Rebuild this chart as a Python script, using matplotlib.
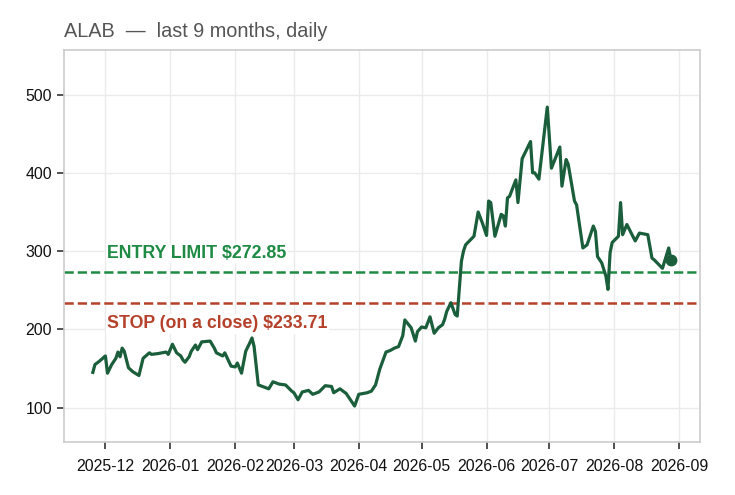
import matplotlib
matplotlib.use("Agg")
import matplotlib.pyplot as plt
import matplotlib.dates as mdates
import matplotlib.transforms as mtransforms
import pandas as pd

plt.rcParams['font.family'] = ['Liberation Sans', 'DejaVu Sans']

ticker = "ALAB"
title = "ALAB  —  last 9 months, daily"
entry_limit = 272.85
stop_level = 233.71

dates = [
    "2025-11-25", "2025-11-26", "2025-11-28", "2025-12-01", "2025-12-02", "2025-12-04",
    "2025-12-06", "2025-12-07", "2025-12-08", "2025-12-09", "2025-12-10", "2025-12-12",
    "2025-12-14", "2025-12-17", "2025-12-19", "2025-12-22", "2025-12-23", "2025-12-26",
    "2025-12-30", "2025-12-31", "2026-01-02", "2026-01-04", "2026-01-06", "2026-01-07",
    "2026-01-08", "2026-01-10", "2026-01-11", "2026-01-13", "2026-01-14", "2026-01-16",
    "2026-01-20", "2026-01-22", "2026-01-23", "2026-01-26", "2026-01-27", "2026-01-30",
    "2026-02-01", "2026-02-02", "2026-02-04", "2026-02-06", "2026-02-08", "2026-02-09",
    "2026-02-10", "2026-02-12", "2026-02-14", "2026-02-17", "2026-02-19", "2026-02-22",
    "2026-02-25", "2026-02-28", "2026-03-01", "2026-03-03", "2026-03-05", "2026-03-08",
    "2026-03-10", "2026-03-13", "2026-03-16", "2026-03-19", "2026-03-20", "2026-03-23",
    "2026-03-26", "2026-03-28", "2026-03-30", "2026-04-01", "2026-04-05", "2026-04-07",
    "2026-04-09", "2026-04-11", "2026-04-14", "2026-04-16", "2026-04-18", "2026-04-20",
    "2026-04-22", "2026-04-23", "2026-04-26", "2026-04-28", "2026-04-29", "2026-05-01",
    "2026-05-03", "2026-05-05", "2026-05-07", "2026-05-09", "2026-05-11", "2026-05-12",
    "2026-05-13", "2026-05-15", "2026-05-17", "2026-05-18", "2026-05-20", "2026-05-21",
    "2026-05-22", "2026-05-26", "2026-05-28", "2026-05-30", "2026-06-01", "2026-06-02",
    "2026-06-03", "2026-06-05", "2026-06-08", "2026-06-09", "2026-06-10", "2026-06-11",
    "2026-06-12", "2026-06-15", "2026-06-16", "2026-06-18", "2026-06-22", "2026-06-23",
    "2026-06-24", "2026-06-26", "2026-06-30", "2026-07-02", "2026-07-06", "2026-07-07",
    "2026-07-09", "2026-07-10", "2026-07-13", "2026-07-14", "2026-07-17", "2026-07-19",
    "2026-07-22", "2026-07-23", "2026-07-24", "2026-07-26", "2026-07-28", "2026-07-29",
    "2026-07-30", "2026-07-31", "2026-08-03", "2026-08-04", "2026-08-05", "2026-08-07",
    "2026-08-11", "2026-08-13", "2026-08-17", "2026-08-19", "2026-08-20", "2026-08-24",
    "2026-08-27", "2026-08-28",
]

closes = [
    145, 155, 159, 166, 144, 155,
    163, 171, 165, 176, 172, 151,
    146, 141, 163, 170, 168, 169,
    171, 168, 181, 170, 166, 161,
    158, 165, 172, 180, 174, 184,
    185, 176, 170, 166, 170, 153,
    152, 157, 144, 172, 183, 189,
    178, 129, 127, 124, 133, 130,
    129, 121, 119, 110, 120, 122,
    117, 120, 128, 127, 119, 124,
    118, 110, 102, 117, 119, 121,
    129, 149, 171, 173, 176, 178,
    192, 212, 202, 185, 197, 203,
    202, 216, 195, 202, 206, 213,
    223, 234, 219, 217, 287, 300,
    308, 319, 350, 336, 320, 364,
    362, 319, 347, 345, 332, 368,
    370, 391, 362, 418, 440, 400,
    400, 392, 484, 406, 433, 383,
    417, 411, 364, 359, 304, 308,
    332, 325, 293, 285, 268, 251,
    298, 311, 319, 362, 321, 334,
    313, 323, 321, 291, 289, 278,
    304, 289,
]

x = pd.to_datetime(dates)

fig = plt.figure(figsize=(7.35, 4.95), dpi=100)
ax = fig.add_axes([0.087, 0.107, 0.865, 0.792])

ax.grid(True, color="#ebebeb", linewidth=1.0, zorder=0)
ax.set_axisbelow(True)

ax.plot(x, closes, color="#1b5e3b", linewidth=2.3, zorder=3)
ax.plot(x[-1:], closes[-1:], marker="o", markersize=7.5, color="#1b5e3b", zorder=4, linestyle="none")

ax.axhline(entry_limit, color="#1e8a44", linestyle="--", linewidth=1.8, zorder=2)
ax.axhline(stop_level, color="#b5412b", linestyle="--", linewidth=1.8, zorder=2)

trans = mtransforms.blended_transform_factory(ax.transAxes, ax.transData)
ax.text(0.068, 297, f"ENTRY LIMIT ${entry_limit:.2f}", transform=trans, color="#1e8a44",
        fontsize=12.8, fontweight="bold", va="center", ha="left",
        bbox=dict(facecolor="white", edgecolor="none", pad=1.0), zorder=3)
ax.text(0.068, 207, f"STOP (on a close) ${stop_level:.2f}", transform=trans, color="#b5412b",
        fontsize=12.8, fontweight="bold", va="center", ha="left",
        bbox=dict(facecolor="white", edgecolor="none", pad=1.0), zorder=3)

ax.set_ylim(56, 557)
ax.set_yticks([100, 200, 300, 400, 500])
ax.xaxis.set_major_locator(mdates.MonthLocator())
ax.xaxis.set_major_formatter(mdates.DateFormatter("%Y-%m"))

for s in ax.spines.values():
    s.set_color("#cccccc")
    s.set_linewidth(1.2)

ax.tick_params(axis="both", labelsize=11.4, length=5, width=1.1, color="#222222", labelcolor="#111111")
ax.tick_params(axis="x", pad=7.5)

ax.set_title(title, loc="left", fontsize=14.3, color="#555555", pad=9)

fig.savefig("out.png", dpi=100)
